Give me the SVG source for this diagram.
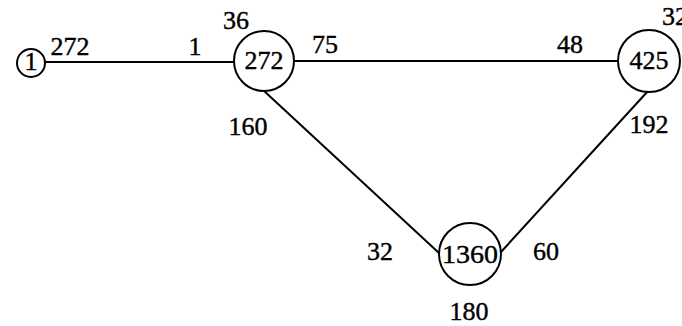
<svg xmlns="http://www.w3.org/2000/svg" width="682" height="326" viewBox="0 0 682 326">
<style>
.n{fill:#fff;stroke:#000;stroke-width:2}
.e{stroke:#000;stroke-width:2;fill:none}
text{font-family:"Liberation Serif","Times New Roman",serif;font-size:26px;fill:#000;stroke:#000;stroke-width:0.4}
.c{text-anchor:middle}
</style>
<rect width="682" height="326" fill="#fff"/>
<g id="edges">
<line class="e" x1="45" y1="62" x2="234" y2="62"/>
<line class="e" x1="294" y1="61" x2="618" y2="61"/>
<line class="e" x1="263" y1="90" x2="439" y2="253"/>
<line class="e" x1="648" y1="91" x2="501" y2="252"/>
</g>
<g id="node1">
<circle class="n" cx="31" cy="63" r="14"/>
<text class="c" x="31" y="70">1</text>
</g>
<g id="node272">
<circle class="n" cx="264" cy="61" r="30"/>
<text class="c" x="264" y="69">272</text>
</g>
<g id="node425">
<circle class="n" cx="649" cy="61" r="31"/>
<text class="c" x="649" y="69">425</text>
</g>
<g id="node1360">
<circle class="n" cx="470" cy="254" r="31"/>
<text class="c" x="470" y="263" textLength="56" lengthAdjust="spacingAndGlyphs">1360</text>
</g>
<g id="labels">
<text class="c" x="70" y="55">272</text>
<text class="c" x="195" y="55">1</text>
<text class="c" x="236" y="29">36</text>
<text class="c" x="325" y="53">75</text>
<text class="c" x="570" y="53">48</text>
<text x="662" y="25">32</text>
<text class="c" x="248" y="135">160</text>
<text class="c" x="649" y="133">192</text>
<text class="c" x="380" y="260">32</text>
<text class="c" x="546" y="260">60</text>
<text class="c" x="469" y="320">180</text>
</g>
</svg>
